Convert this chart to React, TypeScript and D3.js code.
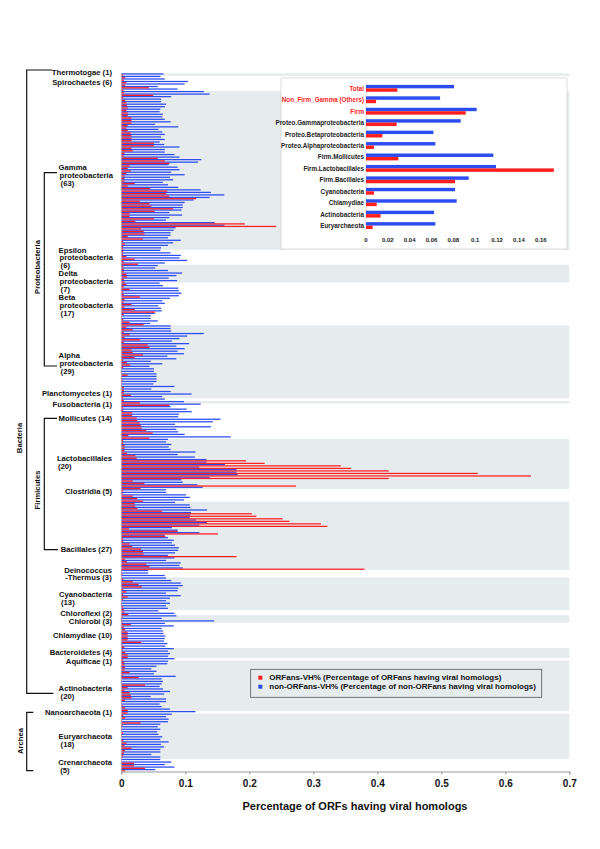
import React, { useEffect, useRef } from "react";
import * as d3 from "d3";

// groups of genomes, top to bottom
const groupSizes = [1, 6, 63, 6, 7, 17, 29, 1, 1, 14, 20, 5, 27, 3, 13, 2, 3, 10, 4, 1, 20, 1, 18, 5];
const groupLabels = [
  ["Thermotogae (1)"], ["Spirochaetes (6)"], ["Gamma", "proteobacteria", " (63)"],
  ["Epsilon", "proteobacteria", " (6)"], ["Delta", "proteobacteria", " (7)"],
  ["Beta", "proteobacteria", " (17)"], ["Alpha", "proteobacteria", " (29)"],
  ["Planctomycetes (1)"], ["Fusobacteria (1)"], ["Mollicutes (14)"], ["Lactobacillales", "(20)"],
  ["Clostridia (5)"], ["Bacillales (27)"], ["Deinococcus", "-Thermus (3)"], ["Cyanobacteria", " (13)"],
  ["Chloroflexi (2)"], ["Chlorobi (3)"], ["Chlamydiae (10)"], ["Bacteroidetes (4)"], ["Aquificae (1)"],
  ["Actinobacteria", " (20)"], ["Nanoarchaeota (1)"], ["Euryarchaeota", " (18)"], ["Crenarchaeota", " (5)"],
];

// non-ORFans-VH% per genome (blue)
const nonOrfanVH = [
  0.066,
  0.061, 0.068, 0.104, 0.099, 0.057, 0.088,
  0.129, 0.138, 0.078, 0.062, 0.062, 0.07, 0.068, 0.061, 0.06, 0.065,
  0.064, 0.068, 0.077, 0.053, 0.089, 0.058, 0.064, 0.068, 0.062, 0.068,
  0.06, 0.067, 0.091, 0.068, 0.068, 0.083, 0.091, 0.125, 0.12, 0.074,
  0.088, 0.091, 0.078, 0.099, 0.076, 0.081, 0.065, 0.073, 0.089, 0.124,
  0.14, 0.161, 0.138, 0.113, 0.099, 0.096, 0.096, 0.094, 0.075, 0.095,
  0.075, 0.07, 0.146, 0.161, 0.085, 0.082, 0.077, 0.077, 0.073, 0.093,
  0.081, 0.073, 0.062,
  0.061, 0.077, 0.093, 0.091, 0.103, 0.068,
  0.057, 0.053, 0.073, 0.095, 0.086, 0.074, 0.087,
  0.06, 0.065, 0.089, 0.09, 0.094, 0.09, 0.076, 0.064, 0.068, 0.058, 0.062, 0.063, 0.052, 0.046, 0.046, 0.057, 0.045,
  0.077, 0.077, 0.078, 0.129, 0.103, 0.091, 0.079, 0.106, 0.086, 0.099, 0.088, 0.098, 0.072, 0.086, 0.046,
  0.064, 0.044, 0.051, 0.051, 0.055, 0.055, 0.055, 0.055, 0.05, 0.083, 0.047, 0.077, 0.11, 0.064,
  0.068,
  0.098,
  0.124, 0.077, 0.102, 0.11, 0.09, 0.089, 0.155, 0.143, 0.084, 0.14, 0.086, 0.089, 0.099, 0.171,
  0.073, 0.07, 0.078, 0.074, 0.077, 0.116, 0.088, 0.115, 0.133, 0.133, 0.162, 0.122, 0.18, 0.18, 0.182, 0.138, 0.094, 0.096, 0.119, 0.127,
  0.07, 0.07, 0.101, 0.107, 0.098,
  0.084, 0.107, 0.108, 0.134, 0.109, 0.108, 0.107, 0.117, 0.134, 0.122, 0.079, 0.088, 0.122, 0.068,
  0.073, 0.082, 0.079, 0.084, 0.09, 0.089, 0.084, 0.073, 0.083, 0.07, 0.093, 0.091, 0.096,
  0.042, 0.042, 0.068,
  0.07, 0.078, 0.093, 0.096, 0.089, 0.088, 0.07, 0.093, 0.076, 0.07, 0.076, 0.07, 0.073,
  0.058, 0.083,
  0.086, 0.063, 0.145,
  0.068, 0.082, 0.063, 0.065, 0.066, 0.069, 0.068, 0.067, 0.072, 0.069,
  0.082, 0.073, 0.076, 0.073,
  0.083,
  0.073, 0.072, 0.055, 0.047, 0.055, 0.051, 0.085, 0.063, 0.065, 0.063, 0.06, 0.065, 0.076, 0.067, 0.046, 0.07, 0.07, 0.06, 0.063, 0.076,
  0.116,
  0.079, 0.07, 0.074, 0.073, 0.061, 0.057, 0.061, 0.056, 0.058, 0.064, 0.061, 0.074, 0.062, 0.067, 0.061, 0.061, 0.047, 0.061,
  0.061, 0.078, 0.068, 0.083, 0.053,
];

// ORFans-VH% per genome (red)
const orfanVH = [
  0.003,
  0.006, 0.004, 0.008, 0.006, 0.043, 0.003,
  0.004, 0.05, 0.003, 0.006, 0.008, 0.009, 0.01, 0.008, 0.01, 0.01,
  0.016, 0.016, 0.016, 0.01, 0.008, 0.01, 0.015, 0.016, 0.016, 0.016,
  0.051, 0.051, 0.016, 0.018, 0.005, 0.004, 0.057, 0.068, 0.075, 0.013,
  0.01, 0.015, 0.008, 0.005, 0.005, 0.005, 0.021, 0.01, 0.045, 0.072,
  0.07, 0.075, 0.117, 0.029, 0.044, 0.047, 0.081, 0.052, 0.013, 0.013,
  0.051, 0.022, 0.193, 0.242, 0.031, 0.035, 0.036, 0.01, 0.034, 0.003,
  0.006, 0.003, 0.003,
  0.003, 0.003, 0.008, 0.021, 0.004, 0.026,
  0.003, 0.004, 0.004, 0.008, 0.009, 0.004, 0.005,
  0.008, 0.004, 0.013, 0.003, 0.004, 0.029, 0.005, 0.004, 0.016, 0.005, 0.021, 0.053, 0.004, 0.001, 0.003, 0.013, 0.035,
  0.008, 0.018, 0.004, 0.013, 0.005, 0.029, 0.004, 0.041, 0.044, 0.016, 0.018, 0.034, 0.021, 0.003, 0.009,
  0.014, 0.003, 0.001, 0.001, 0.01, 0.001, 0.002, 0.001, 0.001, 0.004, 0.004, 0.004, 0.015, 0.003,
  0.004,
  0.029,
  0.075, 0.003, 0.003, 0.017, 0.017, 0.024, 0.025, 0.029, 0.031, 0.032, 0.039, 0.049, 0.011, 0.044,
  0.003, 0.003, 0.005, 0.005, 0.005, 0.009, 0.022, 0.024, 0.195, 0.224, 0.343, 0.359, 0.418, 0.557, 0.64, 0.418, 0.018, 0.036, 0.273, 0.03,
  0.003, 0.002, 0.018, 0.025, 0.034,
  0.021, 0.022, 0.025, 0.064, 0.204, 0.211, 0.252, 0.263, 0.312, 0.322, 0.012, 0.088, 0.151, 0.069,
  0.003, 0.003, 0.013, 0.017, 0.031, 0.034, 0.035, 0.18, 0.006, 0.009, 0.039, 0.044, 0.38,
  0.001, 0.002, 0.001,
  0.003, 0.018, 0.027, 0.032, 0.003, 0.008, 0.003, 0.01, 0.003, 0.001, 0.001, 0.003, 0.004,
  0.005, 0.011,
  0.002, 0.001, 0.002,
  0.015, 0.004, 0.006, 0.01, 0.01, 0.01, 0.01, 0.031, 0.002, 0.005,
  0.002, 0.006, 0.01, 0.01,
  0.003,
  0.005, 0.005, 0.006, 0.005, 0.013, 0.003, 0.027, 0.001, 0.001, 0.037, 0.01, 0.005, 0.013, 0.015, 0.016, 0.006, 0.001, 0.002, 0.006, 0.01,
  0.01,
  0.003, 0.006, 0.001, 0.03, 0.002, 0.001, 0.001, 0.003, 0.001, 0.001, 0.003, 0.008, 0.005, 0.016, 0.006, 0.004, 0.003, 0.001,
  0.001, 0.02, 0.02, 0.037, 0.006,
];

const xTicks = [0, 0.1, 0.2, 0.3, 0.4, 0.5, 0.6, 0.7];

// inset: averages per clade
const insetCats = [
  "Total", "Non_Firm_Gamma (Others)", "Firm", "Proteo.Gammaproteobacteria", "Proteo.Betaproteobacteria",
  "Proteo.Alphaproteobacteria", "Firm.Mollicutes", "Firm.Lactobacillales", "Firm.Bacillales",
  "Cyanobacteria", "Chlamydiae", "Actinobacteria", "Euryarchaeota",
];
const insetNonOrfan = [0.0806, 0.0678, 0.1013, 0.0867, 0.0617, 0.0635, 0.1166, 0.119, 0.094, 0.0815, 0.083, 0.0623, 0.0635];
const insetOrfan = [0.0287, 0.0092, 0.0913, 0.0281, 0.015, 0.0073, 0.0296, 0.172, 0.0815, 0.0073, 0.0098, 0.0134, 0.0061];
const insetTicks = [0, 0.02, 0.04, 0.06, 0.08, 0.1, 0.12, 0.14, 0.16];

const RED = "#ff1f1f";
const BLUE = "#2c4cf2";
const BAND = "#e6ebee";
const FONT = "'Liberation Sans', Arial, Helvetica, sans-serif";

// layout of the left-hand labels (first line centre, px) and line spacing
const labelY = [72.7, 82.7, 167.7, 250, 273.7, 297.4, 355.7, 393.3, 404, 418.3, 458.3, 491.7, 549.7, 570,
  594.7, 613.3, 621.3, 635.7, 652, 661, 688.3, 712.3, 736.7, 762.7];
const lineGap = 7.9;

const App = () => {
  const ref = useRef<SVGSVGElement>(null);

  useEffect(() => {
    const svg = d3.select(ref.current);
    svg.selectAll("*").remove();

    const n = nonOrfanVH.length;
    const x = d3.scaleLinear().domain([0, 0.7]).range([121.3, 569.3]);
    const y = d3.scaleBand<number>().domain(d3.range(n)).range([73.3, 771.5]);
    const step = y.step();
    const starts = [0, ...d3.cumsum(groupSizes)];

    // alternating group bands
    svg.append("g")
      .selectAll("rect")
      .data(groupSizes.map((s, i) => ({ s, i })).filter((d) => d.i % 2 === 0))
      .join("rect")
      .attr("x", x(0))
      .attr("width", x(0.7) - x(0))
      .attr("y", (d) => y(starts[d.i])!)
      .attr("height", (d) => d.s * step)
      .attr("fill", BAND);

    // bars
    const bars = svg.append("g");
    bars.selectAll(".b")
      .data(nonOrfanVH)
      .join("rect")
      .attr("x", x(0))
      .attr("y", (_, i) => y(i)!)
      .attr("width", (d) => x(d) - x(0))
      .attr("height", step / 2)
      .attr("fill", BLUE);
    bars.selectAll(".r")
      .data(orfanVH)
      .join("rect")
      .attr("x", x(0))
      .attr("y", (_, i) => y(i)! + step / 2)
      .attr("width", (d) => x(d) - x(0))
      .attr("height", step / 2)
      .attr("fill", RED);

    // y axis line
    svg.append("line")
      .attr("x1", x(0)).attr("x2", x(0))
      .attr("y1", 73.3).attr("y2", 771.5)
      .attr("stroke", "#b8b8b8").attr("stroke-width", 0.6);

    // x axis
    const ax = svg.append("g")
      .attr("transform", "translate(0,771.5)")
      .call(d3.axisBottom(x).tickValues(xTicks).tickFormat((d) => `${d}`).tickSize(3).tickPadding(5));
    ax.select(".domain").attr("stroke", "#999");
    ax.selectAll(".tick line").attr("stroke", "#999");
    ax.selectAll("text")
      .attr("fill", "#111")
      .style("font-family", FONT)
      .style("font-size", "10px")
      .style("font-weight", "bold");

    svg.append("text")
      .attr("x", 355).attr("y", 806)
      .attr("text-anchor", "middle")
      .attr("dominant-baseline", "central")
      .style("font-family", FONT).style("font-size", "11px").style("font-weight", "bold")
      .attr("fill", "#111")
      .text("Percentage of ORFs having viral homologs");

    // left labels
    const lab = svg.append("g")
      .style("font-family", FONT).style("font-size", "7.7px").style("font-weight", "bold")
      .attr("fill", "#111");
    groupLabels.forEach((lines, gi) => {
      const g = lab.append("g");
      const texts = lines.map((t, li) =>
        g.append("text")
          .attr("y", labelY[gi] + li * lineGap)
          .attr("dominant-baseline", "central")
          .text(t.trim())
      );
      const w = d3.max(texts, (t) => (t.node() as SVGTextElement).getComputedTextLength()) || 0;
      const left = 112 - w;
      texts.forEach((t, li) => t.attr("x", left + (lines[li].startsWith(" ") ? 2 : li > 0 ? 1 : 0)));
    });

    // brackets
    const br = svg.append("g").attr("stroke", "#111").attr("fill", "none").attr("stroke-width", 1.2);
    const path = (pts: [number, number][]) => br.append("path").attr("d", d3.line()(pts));
    path([[52, 70], [26.7, 70], [26.7, 693.3], [53.3, 693.3]]);
    path([[57, 172.7], [44.3, 172.7], [44.3, 366], [57, 366]]);
    path([[57, 418.3], [44.3, 418.3], [44.3, 549.7], [58, 549.7]]);
    path([[33.3, 712.3], [26.7, 712.3], [26.7, 770.7], [33.3, 770.7]]);

    const rot = [
      { t: "Bacteria", x: 19, y: 438 },
      { t: "Proteobacteria", x: 37, y: 267 },
      { t: "Firmicutes", x: 37, y: 490 },
      { t: "Archea", x: 20, y: 741 },
    ];
    svg.append("g")
      .selectAll("text")
      .data(rot)
      .join("text")
      .attr("transform", (d) => `translate(${d.x},${d.y}) rotate(-90)`)
      .attr("text-anchor", "middle")
      .attr("dominant-baseline", "central")
      .style("font-family", FONT).style("font-size", "7.7px").style("font-weight", "bold")
      .attr("fill", "#111")
      .text((d) => d.t);

    // inset chart
    const inset = svg.append("g");
    inset.append("rect")
      .attr("x", 281).attr("y", 78).attr("width", 286).attr("height", 171)
      .attr("fill", "#fff").attr("stroke", "#d4d4d4").attr("stroke-width", 0.8);
    const ix = d3.scaleLinear().domain([0, 0.17]).range([366, 551.7]);
    const iy = d3.scaleBand<string>().domain(insetCats).range([82.6, 231.3]).paddingInner(0.4).paddingOuter(0.2);
    const bw = iy.bandwidth() / 2;
    inset.append("line")
      .attr("x1", ix(0)).attr("x2", ix(0)).attr("y1", 82.6).attr("y2", 231.3)
      .attr("stroke", "#c8c8c8").attr("stroke-width", 0.6);
    inset.selectAll(".ib")
      .data(insetNonOrfan)
      .join("rect")
      .attr("x", ix(0))
      .attr("y", (_, i) => iy(insetCats[i])!)
      .attr("width", (d) => ix(d) - ix(0))
      .attr("height", bw)
      .attr("fill", BLUE);
    inset.selectAll(".ir")
      .data(insetOrfan)
      .join("rect")
      .attr("x", ix(0))
      .attr("y", (_, i) => iy(insetCats[i])! + bw)
      .attr("width", (d) => ix(d) - ix(0))
      .attr("height", bw)
      .attr("fill", RED);
    inset.append("g")
      .selectAll("text")
      .data(insetCats)
      .join("text")
      .attr("x", 364)
      .attr("y", (d) => iy(d)! + iy.bandwidth() / 2)
      .attr("text-anchor", "end")
      .attr("dominant-baseline", "central")
      .style("font-family", FONT).style("font-size", "6.3px").style("font-weight", "bold")
      .attr("fill", (_, i) => (i < 3 ? RED : "#222"))
      .text((d) => d);
    inset.append("g")
      .selectAll("text")
      .data(insetTicks)
      .join("text")
      .attr("x", (d) => ix(d))
      .attr("y", 240)
      .attr("text-anchor", "middle")
      .attr("dominant-baseline", "central")
      .style("font-family", FONT).style("font-size", "6px").style("font-weight", "bold")
      .attr("fill", "#222")
      .text((d) => `${d}`);

    // legend
    const leg = svg.append("g");
    leg.append("rect")
      .attr("x", 250.7).attr("y", 669.3).attr("width", 291).attr("height", 28)
      .attr("fill", "none").attr("stroke", "#555").attr("stroke-width", 0.8);
    const items = [
      { c: RED, t: "ORFans-VH% (Percentage of ORFans having viral homologs)" },
      { c: BLUE, t: "non-ORFans-VH% (Percentage of non-ORFans having viral homologs)" },
    ];
    items.forEach((it, i) => {
      leg.append("rect")
        .attr("x", 258.3).attr("y", 675.7 + i * 9).attr("width", 4).attr("height", 4)
        .attr("fill", it.c);
      leg.append("text")
        .attr("x", 269.3).attr("y", 677.7 + i * 9)
        .attr("dominant-baseline", "central")
        .style("font-family", FONT).style("font-size", "8px").style("font-weight", "bold")
        .attr("fill", "#111")
        .text(it.t);
    });
  }, []);

  return (
    <svg
      ref={ref}
      width={600}
      height={849}
      style={{ position: "absolute", left: 0, top: 0, background: "#fff" }}
    />
  );
};

export default App;
